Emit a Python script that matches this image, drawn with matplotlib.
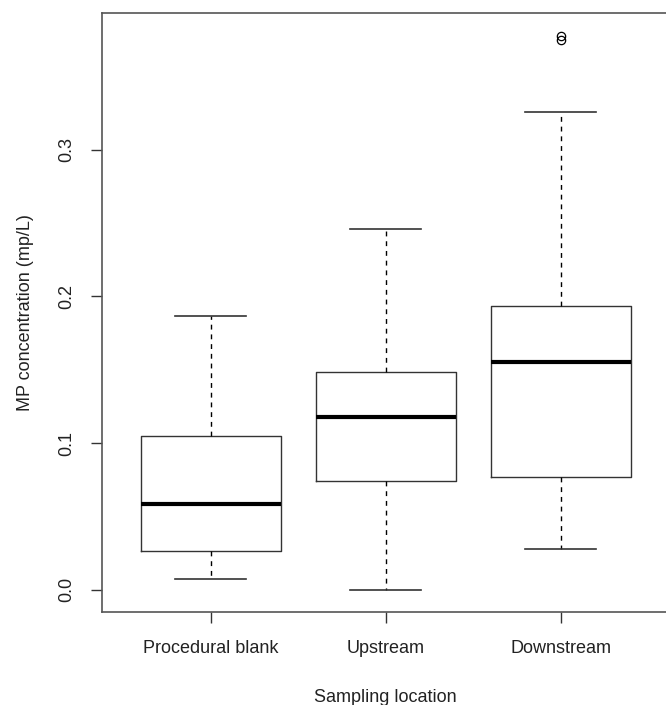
import matplotlib
matplotlib.use("Agg")
import matplotlib.pyplot as plt

# Data
categories = ["Procedural blank", "Upstream", "Downstream"]
whisker_low = [0.0077, 0.0, 0.0279]
q1 = [0.0263, 0.0743, 0.0768]
medians = [0.0585, 0.1175, 0.1554]
q3 = [0.1050, 0.1487, 0.1935]
whisker_high = [0.1867, 0.2462, 0.3254]
outliers = [[], [], [0.3748, 0.3775]]
y_ticks = [0.0, 0.1, 0.2, 0.3]
y_tick_labels = ["0.0", "0.1", "0.2", "0.3"]

plt.rcParams['font.family'] = ['Liberation Sans', 'DejaVu Sans']

W, H = 666, 705
fig = plt.figure(figsize=(W / 100, H / 100), dpi=100)
ax = fig.add_axes([102 / W, 1 - 612 / H, 567 / W, (612 - 13) / H])

stats = []
for c, wl, a, m, b, wh, f in zip(categories, whisker_low, q1, medians, q3, whisker_high, outliers):
    stats.append(dict(label=c, whislo=wl, q1=a, med=m, q3=b, whishi=wh, fliers=f))

positions = list(range(1, len(categories) + 1))
ax.bxp(stats, positions=positions, widths=0.8, capwidths=0.41,
       boxprops=dict(color='#333333', linewidth=1.0),
       medianprops=dict(color='black', linewidth=3.0, solid_capstyle='butt'),
       whiskerprops=dict(color='black', linewidth=1.0, linestyle=(0, (3.5, 3.5))),
       capprops=dict(color='#333333', linewidth=1.2),
       flierprops=dict(marker='o', markerfacecolor='none', markeredgecolor='black',
                       markersize=6.0, markeredgewidth=0.9))

ax.set_xlim(0.38, 3.62)
ax.set_ylim(-0.0151, 0.3931)
ax.set_xticks(positions)
ax.set_xticklabels(categories)
ax.set_yticks(y_ticks)
ax.set_yticklabels(y_tick_labels)
for lab in ax.get_yticklabels():
    lab.set_rotation(90)
    lab.set_va('center')
    lab.set_ha('right')

ax.tick_params(axis='both', length=8, width=1.0, color='#333333', labelsize=13,
               labelcolor='#222222')
ax.tick_params(axis='x', pad=12)
ax.tick_params(axis='y', pad=11)

for s in ax.spines.values():
    s.set_color('#555555')
    s.set_linewidth(1.2)

ax.set_xlabel("Sampling location", fontsize=13, color='#222222', labelpad=23)
ax.set_ylabel("MP concentration (mp/L)", fontsize=13, color='#222222', labelpad=18)

fig.savefig("out.png", dpi=100, facecolor='white')
